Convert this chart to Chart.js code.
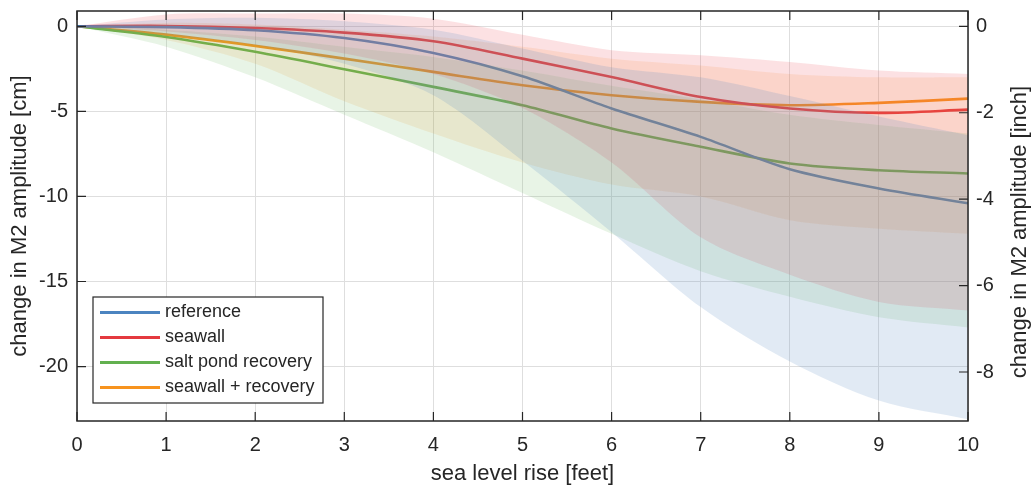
<!DOCTYPE html>
<html>
<head>
<meta charset="utf-8">
<script src="https://cdn.jsdelivr.net/npm/chart.js@4.4.1/dist/chart.umd.min.js"></script>
<style>
  html, body { margin: 0; padding: 0; background: #fff; }
  #wrap { width: 1036px; height: 485px; }
</style>
</head>
<body>
<div id="wrap"><canvas id="m2chart" width="1036" height="485"></canvas></div>
<script>
// sea level rise [feet]
const seaLevel = [0, 1, 2, 3, 4, 5, 6, 7, 8, 9, 10]

// change in M2 amplitude [cm], central estimate
const reference = [0, -0.05, -0.23, -0.69, -1.57, -2.94, -4.83, -6.5, -8.4, -9.53, -10.4]
const seawall = [0, 0.02, -0.1, -0.37, -0.88, -1.9, -2.98, -4.15, -4.83, -5.09, -4.9]
const saltPond = [0, -0.63, -1.5, -2.52, -3.56, -4.64, -6.01, -7.08, -8.06, -8.46, -8.65]
const seawallRecovery = [0, -0.49, -1.15, -1.9, -2.68, -3.46, -4.05, -4.44, -4.64, -4.5, -4.25]

// uncertainty bands [cm]
const referenceUpper = [0, 0.4, 0.5, 0.3, -0.2, -1.3, -2.4, -3.0, -4.1, -5.3, -6.4]
const referenceLower = [0, -0.5, -1.1, -2.2, -4.05, -7.9, -12.1, -16.5, -19.7, -22.0, -23.1]
const seawallUpper = [0, 0.7, 0.75, 0.75, 0.45, -0.5, -1.4, -1.7, -2.1, -2.6, -2.8]
const seawallLower = [0, -0.3, -0.8, -1.6, -2.8, -4.8, -8.0, -12.4, -14.6, -16.2, -16.7]
const saltPondUpper = [0, -0.2, -0.6, -1.2, -1.8, -2.6, -3.5, -4.3, -5.2, -5.8, -6.3]
const saltPondLower = [0, -1.2, -3.0, -5.2, -7.4, -9.8, -12.2, -14.4, -15.9, -17.1, -17.7]
const recoveryUpper = [0, 0.2, 0.1, -0.2, -0.6, -1.2, -1.9, -2.3, -2.8, -3.0, -3.0]
const recoveryLower = [0, -0.8, -2.2, -4.4, -6.3, -8.0, -9.3, -10.0, -11.4, -11.9, -12.2]

// tick labels
const xTicks = [0, 1, 2, 3, 4, 5, 6, 7, 8, 9, 10]
const cmTicks = [0, -5, -10, -15, -20]
const inchTicks = [0, -2, -4, -6, -8]

const seriesNames = ["reference", "seawall", "salt pond recovery", "seawall + recovery"]
const lineColors = ["#4b84c0", "#e4393f", "#62b04f", "#f7931e"]
const bandColors = [
    "rgba(90,140,195,0.18)",
    "rgba(235,70,80,0.16)",
    "rgba(100,180,90,0.15)",
    "rgba(247,150,40,0.14)"
]

const cmMin = -23.2
const cmMax = 0.9
const textColor = "#262626"
const fontFamily = "'Liberation Sans', Arial, sans-serif"

const toPoints = arr => seaLevel.map((x, i) => ({ x, y: arr[i] }))

const mids = [reference, seawall, saltPond, seawallRecovery]
const uppers = [referenceUpper, seawallUpper, saltPondUpper, recoveryUpper]
const lowers = [referenceLower, seawallLower, saltPondLower, recoveryLower]

const datasets = []
mids.forEach((m, i) => {
    datasets.push({
        label: seriesNames[i],
        data: toPoints(m),
        borderColor: lineColors[i],
        borderWidth: 2.6,
        pointRadius: 0,
        tension: 0.3,
        fill: false,
        order: 2,
        isSeries: true
    })
})
uppers.forEach((u, i) => {
    datasets.push({
        label: seriesNames[i] + " upper",
        data: toPoints(u),
        borderColor: "transparent",
        borderWidth: 0,
        pointRadius: 0,
        tension: 0.3,
        fill: false,
        order: 1
    })
    datasets.push({
        label: seriesNames[i] + " lower",
        data: toPoints(lowers[i]),
        borderColor: "transparent",
        borderWidth: 0,
        pointRadius: 0,
        tension: 0.3,
        fill: "-1",
        backgroundColor: bandColors[i],
        order: 1
    })
})

// box, inward tick marks, right title and legend
const matlabAxes = {
    id: "matlabAxes",
    afterDraw(chart) {
        const { ctx, chartArea: a, scales } = chart
        const tl = 9
        ctx.save()
        ctx.strokeStyle = textColor
        ctx.lineWidth = 1.2
        ctx.beginPath()
        xTicks.forEach(v => {
            const px = scales.x.getPixelForValue(v)
            ctx.moveTo(px, a.bottom); ctx.lineTo(px, a.bottom - tl)
            ctx.moveTo(px, a.top); ctx.lineTo(px, a.top + tl)
        })
        cmTicks.forEach(v => {
            const py = scales.y.getPixelForValue(v)
            ctx.moveTo(a.left, py); ctx.lineTo(a.left + tl, py)
        })
        inchTicks.forEach(v => {
            const py = scales.y2.getPixelForValue(v)
            ctx.moveTo(a.right, py); ctx.lineTo(a.right - tl, py)
        })
        ctx.stroke()
        ctx.lineWidth = 1.5
        ctx.strokeRect(a.left, a.top, a.right - a.left, a.bottom - a.top)

        // right axis title, reading bottom to top
        ctx.fillStyle = textColor
        ctx.font = "22px " + fontFamily
        ctx.textAlign = "center"
        ctx.textBaseline = "middle"
        ctx.translate(1020, (a.top + a.bottom) / 2 + 16)
        ctx.rotate(-Math.PI / 2)
        ctx.fillText("change in M2 amplitude [inch]", 0, 0)
        ctx.restore()

        // legend
        ctx.save()
        const lx = 93, ly = 297, lw = 230, lh = 106
        ctx.fillStyle = "#fff"
        ctx.fillRect(lx, ly, lw, lh)
        ctx.strokeStyle = textColor
        ctx.lineWidth = 1.2
        ctx.strokeRect(lx, ly, lw, lh)
        ctx.font = "18px " + fontFamily
        ctx.textAlign = "left"
        ctx.textBaseline = "middle"
        chart.data.datasets.filter(d => d.isSeries).forEach((d, i) => {
            const ry = ly + 15.5 + i * 25
            ctx.strokeStyle = d.borderColor
            ctx.lineWidth = 3
            ctx.beginPath()
            ctx.moveTo(lx + 7, ry); ctx.lineTo(lx + 67, ry)
            ctx.stroke()
            ctx.fillStyle = textColor
            ctx.fillText(d.label, lx + 72, ry)
        })
        ctx.restore()
    }
}

const tickFont = { family: fontFamily, size: 20 }
const titleFont = { family: fontFamily, size: 22 }

// vertical axes: no extra label padding so the plot box starts at the layout padding
const fixVertical = w => s => {
    s.width = w
    s.paddingTop = 0
    s.paddingBottom = 0
}

new Chart(document.getElementById("m2chart"), {
    type: "line",
    data: { datasets },
    options: {
        responsive: false,
        animation: false,
        layout: { padding: { top: 11, left: 0, right: 0, bottom: 0 } },
        plugins: {
            legend: { display: false },
            tooltip: { enabled: false }
        },
        scales: {
            x: {
                type: "linear",
                min: 0,
                max: 10,
                afterBuildTicks: s => { s.ticks = xTicks.map(v => ({ value: v })) },
                afterFit: s => { s.height = 64 },
                grid: { color: "#dedede", drawTicks: false },
                border: { display: false },
                ticks: { font: tickFont, color: textColor, padding: 12, maxRotation: 0 },
                title: { display: true, text: "sea level rise [feet]", font: titleFont, color: textColor, padding: { top: 0, bottom: -2 } }
            },
            y: {
                type: "linear",
                position: "left",
                min: cmMin,
                max: cmMax,
                afterBuildTicks: s => { s.ticks = cmTicks.map(v => ({ value: v })) },
                afterFit: fixVertical(77),
                grid: { color: "#dedede", drawTicks: false },
                border: { display: false },
                ticks: { font: tickFont, color: textColor, padding: 9 },
                title: { display: true, text: "change in M2 amplitude [cm]", font: titleFont, color: textColor, padding: { top: 7, bottom: 0 } }
            },
            y2: {
                type: "linear",
                position: "right",
                min: cmMin / 2.54,
                max: cmMax / 2.54,
                afterBuildTicks: s => { s.ticks = inchTicks.map(v => ({ value: v })) },
                afterFit: fixVertical(68),
                grid: { display: false, drawTicks: false },
                border: { display: false },
                ticks: { font: tickFont, color: textColor, padding: 8 }
            }
        }
    },
    plugins: [matlabAxes]
})
</script>
</body>
</html>
